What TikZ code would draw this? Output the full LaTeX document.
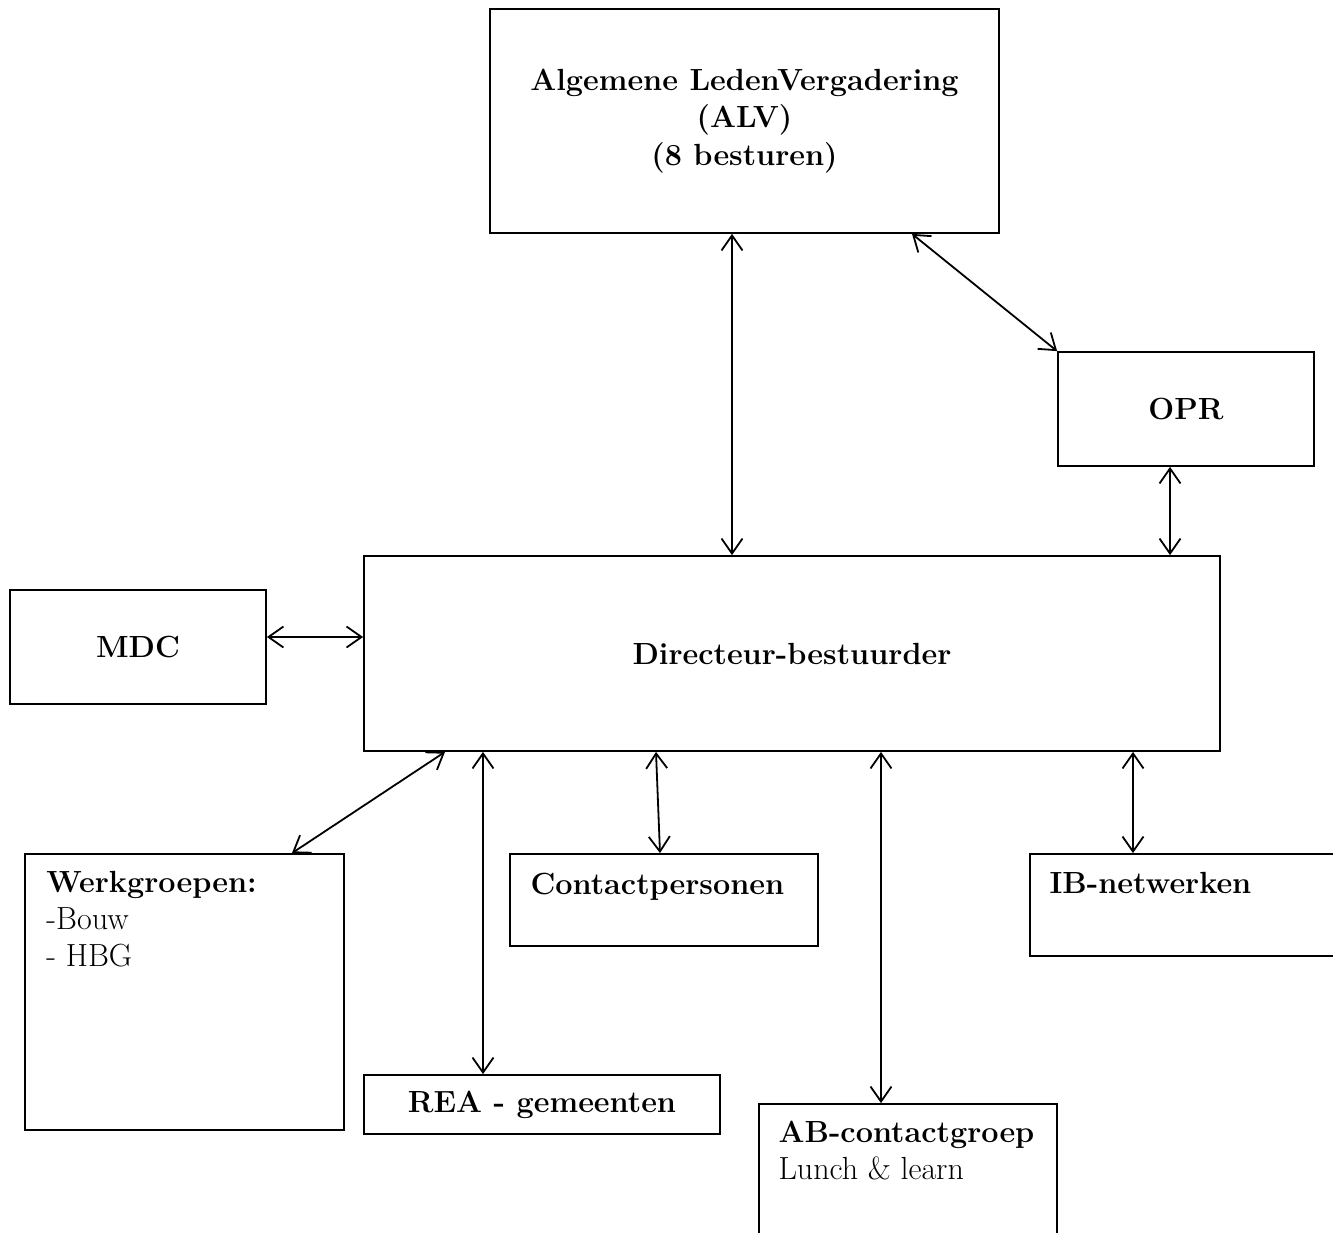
\documentclass[tikz,border=0pt]{standalone}
\usepackage{fontspec}
\usetikzlibrary{arrows.meta}
\usetikzlibrary{positioning}

\begin{document}
\begin{tikzpicture}[x = 0.5pt, y = -0.5pt, font = \fontsize{16}{18.5}\selectfont]
	\tikzstyle{boxStyle} = [shape = rectangle, draw, line width = 0.9pt, inner sep = 0pt, align = center, font = \fontsize{15.3}{18.75}\selectfont\bfseries]
	\tikzstyle{textStyle} = [inner sep = 0pt, align = left]
	\tikzstyle{linkStyle} = [line width = 0.9pt, {Straight Barb[length = 7.5pt, width = 10.5pt]}-{Straight Barb[length = 7.5pt, width = 10.5pt]}]
	\useasboundingbox (0, 0) rectangle (1333, 1232);
	\clip (0, 0) rectangle (1333, 1232);
	% boxes
	\node[boxStyle, minimum width = 254.5pt, minimum height = 112pt] (alv) at (744.5, 121) {Algemene LedenVergadering\\(ALV)\\(8 besturen)};
	\node[boxStyle, minimum width = 128pt, minimum height = 57pt] (opr) at (1186, 409) {OPR};
	\node[boxStyle, minimum width = 428pt, minimum height = 97.5pt] (dir) at (792, 653.5) {Directeur-bestuurder};
	\node[boxStyle, minimum width = 128pt, minimum height = 57pt] (mdc) at (138, 647) {MDC};
	\node[boxStyle, minimum width = 159.5pt, minimum height = 138pt] (werk) at (184.5, 992) {};
	\node[boxStyle, minimum width = 154pt, minimum height = 46pt] (cont) at (664, 900) {};
	\node[boxStyle, minimum width = 157.5pt, minimum height = 51pt] (ib) at (1187.5, 905) {};
	\node[boxStyle, minimum width = 178pt, minimum height = 29.5pt] (rea) at (542, 1104.5) {REA - gemeenten};
	\node[boxStyle, minimum width = 149pt, minimum height = 70.5pt] (ab) at (908, 1174.5) {};
	% texts in the corners
	\node[textStyle, below right = 9pt and 11pt of werk.north west] (werkText) {\textbf{\fontsize{15.3}{18.5}\selectfont Werkgroepen:}\\-Bouw\\- HBG};
	\node[textStyle, below right = 10pt and 10.5pt of cont.north west, font = \fontsize{15.3}{18.5}\selectfont\bfseries] (contText) {Contactpersonen};
	\node[textStyle, below right = 9.5pt and 10pt of ib.north west, font = \fontsize{15.3}{18.5}\selectfont\bfseries] (ibText) {IB-netwerken};
	\node[textStyle, below right = 9pt and 10pt of ab.north west] (abText) {\textbf{\fontsize{15.3}{18.5}\selectfont AB-contactgroep}\\Lunch \& learn};
	% links
	\draw[linkStyle] (732, 0 |- alv.south) -- (732, 0 |- dir.north);
	\draw[linkStyle] (912, 0 |- alv.south) -- (opr.north west);
	\draw[linkStyle] (1170, 0 |- opr.south) -- (1170, 0 |- dir.north);
	\draw[linkStyle] (0, 637 -| mdc.east) -- (0, 637 -| dir.west);
	\draw[linkStyle] (445, 0 |- dir.south) -- (292, 0 |- werk.north);
	\draw[linkStyle] (483, 0 |- dir.south) -- (483, 0 |- rea.north);
	\draw[linkStyle] (656, 0 |- dir.south) -- (660, 0 |- cont.north);
	\draw[linkStyle] (881, 0 |- dir.south) -- (881, 0 |- ab.north);
	\draw[linkStyle] (1133, 0 |- dir.south) -- (1133, 0 |- ib.north);
\end{tikzpicture}
\end{document}
